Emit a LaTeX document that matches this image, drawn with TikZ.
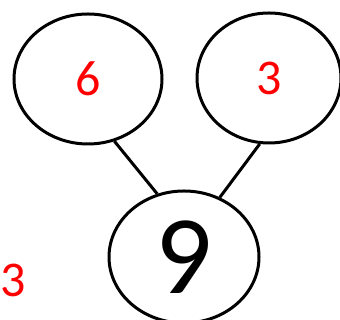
\documentclass[tikz,border=0pt]{standalone}
\usepackage{fontspec}
\setmainfont{Carlito}
\usetikzlibrary{shapes.geometric}

\begin{document}
\begin{tikzpicture}[x=1pt,y=1pt,
  bubble/.style={ellipse,draw,line width=3pt,minimum width=148pt,minimum height=130pt,inner sep=0pt},
  part/.style={text=red,font=\fontsize{50}{50}\selectfont}]
\useasboundingbox (0,0) rectangle (340,320);
\node[bubble,part] (six) at (88,241) {6};
\node[bubble,part,minimum width=144pt] (three) at (269,242) {3};
\node[bubble,minimum width=150pt,minimum height=132pt,font=\fontsize{112}{112}\selectfont] (nine) at (184,63) {9};
\draw[line width=3pt] (six.-67)--(nine.113);
\draw[line width=3pt] (three.-98)--(nine.59);
\node[part,inner sep=0pt] (extra) at (13,40) {3};
\end{tikzpicture}
\end{document}
